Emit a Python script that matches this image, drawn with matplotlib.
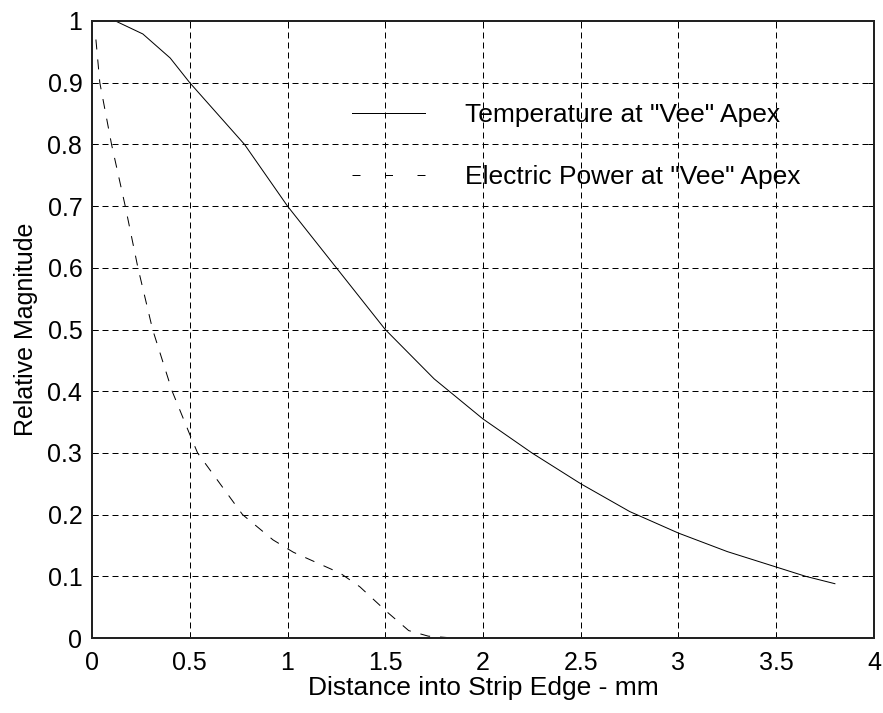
import matplotlib
matplotlib.use("Agg")
import matplotlib.pyplot as plt
from matplotlib.lines import Line2D

plt.rcParams['font.family'] = ['Liberation Sans', 'DejaVu Sans']
plt.rcParams['lines.scale_dashes'] = False

# Data
temp_x = [0.12, 0.26, 0.40, 0.50, 0.78, 1.00, 1.25, 1.50, 1.75, 2.00, 2.25, 2.50, 2.75, 3.00, 3.25, 3.50, 3.65, 3.80]
temp_y = [1.00, 0.979, 0.94, 0.90, 0.80, 0.70, 0.60, 0.50, 0.42, 0.355, 0.30, 0.25, 0.205, 0.17, 0.14, 0.115, 0.10, 0.088]

power_x = [0.02, 0.04, 0.10, 0.17, 0.235, 0.31, 0.41, 0.50, 0.54, 0.655, 0.77, 0.926, 1.03, 1.27, 1.37, 1.51, 1.62, 1.72, 1.85]
power_y = [0.97, 0.90, 0.80, 0.70, 0.60, 0.50, 0.40, 0.33, 0.30, 0.25, 0.20, 0.159, 0.139, 0.105, 0.083, 0.042, 0.012, 0.003, 0.0]

x_ticks = [0, 0.5, 1, 1.5, 2, 2.5, 3, 3.5, 4]
x_tick_labels = ['0', '0.5', '1', '1.5', '2', '2.5', '3', '3.5', '4']
y_ticks = [0, 0.1, 0.2, 0.3, 0.4, 0.5, 0.6, 0.7, 0.8, 0.9, 1]
y_tick_labels = ['0', '0.1', '0.2', '0.3', '0.4', '0.5', '0.6', '0.7', '0.8', '0.9', '1']

labels = ['Temperature at "Vee" Apex', 'Electric Power at "Vee" Apex']

fig = plt.figure(figsize=(8.83, 7.13), dpi=100)
ax = fig.add_axes([92/883, 75/713, 782/883, 617/713])

px = 0.72  # points per pixel at 100 dpi
grid_ls = (0, (6*px, 4*px))
ax.set_axisbelow(True)
ax.grid(True, color='black', linestyle=grid_ls, linewidth=1*px)

ax.plot(temp_x, temp_y, color='black', linewidth=1*px)
ax.plot(power_x, power_y, color='black', linewidth=1*px, linestyle=(0, (10*px, 10*px)))

ax.set_xlim(0, 4)
ax.set_ylim(0, 1)
ax.set_xticks(x_ticks)
ax.set_xticklabels(x_tick_labels)
ax.set_yticks(y_ticks)
ax.set_yticklabels(y_tick_labels)
ax.tick_params(direction='in', length=6*px, width=1*px, labelsize=18, top=True, right=True, pad=7)
ax.tick_params(axis='x', pad=9)
for s in ax.spines.values():
    s.set_linewidth(2*px)
    s.set_color('#222222')

ax.set_xlabel('Distance into Strip Edge - mm', fontsize=19, labelpad=1)
ax.set_ylabel('Relative Magnitude', fontsize=18, labelpad=7)

handles = [Line2D([], [], color='black', linewidth=1*px),
           Line2D([], [], color='black', linewidth=1*px, linestyle=(0, (8*px, 24.5*px)))]
leg = ax.legend(handles, labels, loc='upper left', bbox_to_anchor=(0.3325, 0.867), frameon=False,
                fontsize=19, handlelength=2.77, handletextpad=1.5, labelspacing=1.43,
                borderaxespad=0, borderpad=0)

fig.savefig('out.png', dpi=100)
